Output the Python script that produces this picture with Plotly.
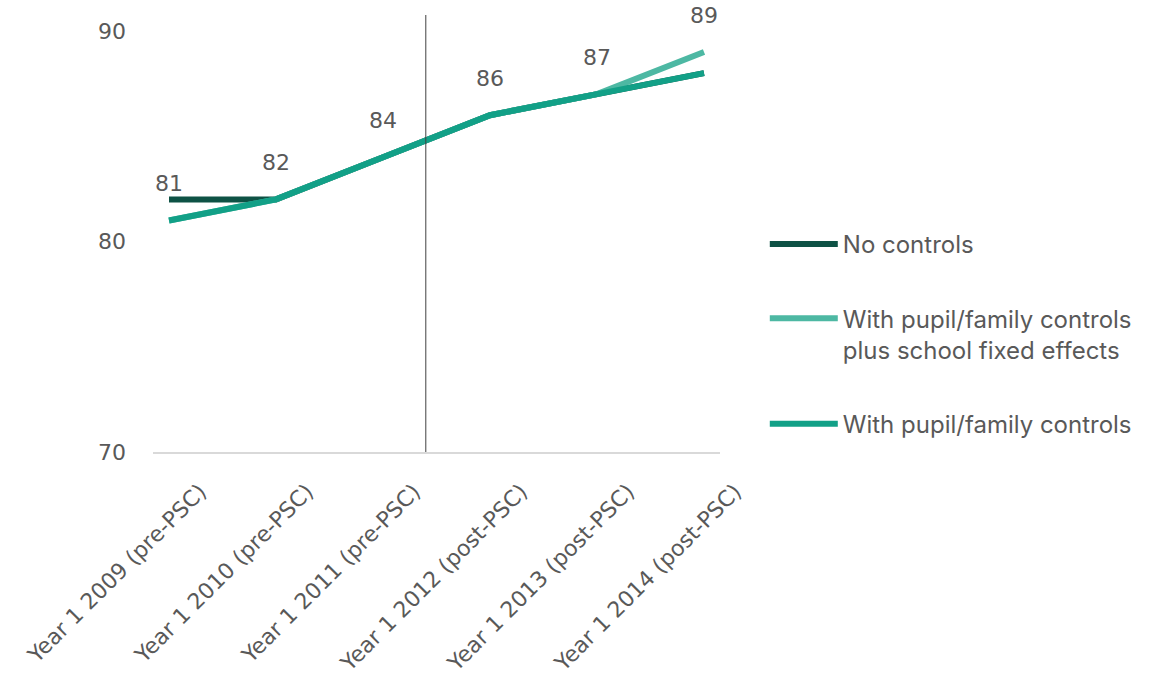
import plotly.graph_objects as go

# Category labels (x axis)
years = [
    "Year 1 2009 (pre-PSC)",
    "Year 1 2010 (pre-PSC)",
    "Year 1 2011 (pre-PSC)",
    "Year 1 2012 (post-PSC)",
    "Year 1 2013 (post-PSC)",
    "Year 1 2014 (post-PSC)",
]

# Series values
no_controls = [82, 82, 84, 86, 87, 88]
pupil_family_school_fe = [81, 82, 84, 86, 87, 89]
pupil_family = [81, 82, 84, 86, 87, 88]

series_names = [
    "No controls",
    "With pupil/family controls<br>plus school fixed effects",
    "With pupil/family controls",
]
series_colors = ["#0e5245", "#4db8a3", "#12a087"]

grey = "#595959"
tick_font = dict(family="DejaVu Sans, sans-serif", size=22, color=grey)

fig = go.Figure()
for name, vals, col in zip(series_names,
                           [no_controls, pupil_family_school_fe, pupil_family],
                           series_colors):
    fig.add_trace(go.Scatter(
        x=years, y=vals, name=name, mode="lines",
        line=dict(color=col, width=6),
        legendgroup=name,
    ))

# Value labels for the school-fixed-effects series
for cat, v in zip(years, pupil_family_school_fe):
    fig.add_annotation(
        x=cat, y=v, text=str(v), showarrow=False,
        yshift=37, font=dict(family="DejaVu Sans, sans-serif", size=22, color=grey),
    )

# Divider between pre- and post-PSC cohorts
fig.add_shape(
    type="line", xref="x", yref="paper",
    x0=2.4, x1=2.4, y0=0, y1=1,
    line=dict(color="#404040", width=1),
)

fig.update_layout(
    width=1152, height=682,
    margin=dict(l=153, r=432, t=15, b=230, autoexpand=False),
    plot_bgcolor="white", paper_bgcolor="white",
    showlegend=True,
    legend=dict(
        x=1.079, xanchor="left", y=0.27, yanchor="middle",
        font=dict(family="Inter, Lato, sans-serif", size=24, color=grey),
        tracegroupgap=40, itemwidth=68, valign="top",
        bgcolor="rgba(0,0,0,0)",
    ),
)
fig.update_xaxes(
    type="category", showgrid=False, zeroline=False, automargin=False,
    showline=True, linecolor="#d9d9d9", linewidth=2,
    tickangle=-45, tickfont=tick_font, ticks="",
    ticklabelstandoff=16, ticklabelshift=31,
)
fig.update_yaxes(
    range=[70, 90.76], tickvals=[70, 80, 90], automargin=False,
    showgrid=False, zeroline=False, showline=False,
    tickfont=dict(family="DejaVu Sans, sans-serif", size=22, color=grey),
    ticks="", ticklabelstandoff=26,
)

fig.write_html("out.html")
